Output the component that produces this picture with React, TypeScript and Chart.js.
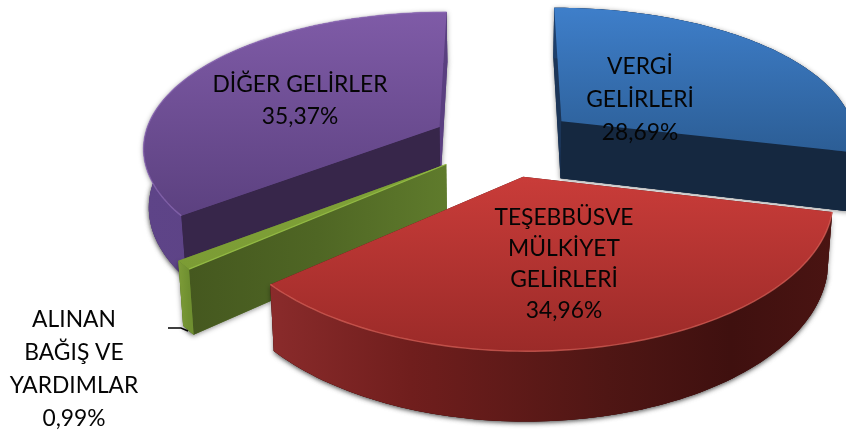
import React, { useEffect, useRef } from "react";
import { Chart, registerables } from "chart.js";

Chart.register(...registerables);

const categories = ["VERGİ GELİRLERİ", "TEŞEBBÜSVE MÜLKİYET GELİRLERİ", "ALINAN BAĞIŞ VE YARDIMLAR", "DİĞER GELİRLER"];
const shares = [28.69, 34.96, 0.99, 35.37];
const shareLabels = ["28,69%", "34,96%", "0,99%", "35,37%"];
const labelLines = [
  ["VERGİ", "GELİRLERİ", shareLabels[0]],
  ["TEŞEBBÜSVE", "MÜLKİYET", "GELİRLERİ", shareLabels[1]],
  ["ALINAN", "BAĞIŞ VE", "YARDIMLAR", shareLabels[2]],
  ["DİĞER GELİRLER", shareLabels[3]],
];
const labelBoxes = [
  { x: 640, y: 67, gap: 33 },
  { x: 564, y: 218, gap: 31 },
  { x: 74, y: 320, gap: 33 },
  { x: 300, y: 85, gap: 32 },
];
const sliceColors = ["#3A74BC", "#BE3835", "#7D9F36", "#73529A"];

// Perspective of the pie's plane on the page
const VP_X = 500;
const HORIZON = -870;
const REF = 1000;
const TILT = 0.134 / 293;
const PIE_DX = 4.7;
const PIE_DY = 26;
const RADIUS = 293;
const EXPLODE = 73;

type Pt = [number, number];

function project(gx: number, gy: number): Pt {
  const s = 1 / (1 - TILT * gy);
  const bow = 2.5 * (gy / 300) * (gy / 300);
  return [VP_X + gx * s, HORIZON + REF * s + bow];
}
function drop(p: Pt): Pt {
  return [VP_X + (p[0] - VP_X) * 0.985, p[1] + 0.0576 * (p[1] - HORIZON)];
}
function trace(ctx: CanvasRenderingContext2D, pts: Pt[]) {
  ctx.beginPath();
  pts.forEach((p, i) => (i ? ctx.lineTo(p[0], p[1]) : ctx.moveTo(p[0], p[1])));
  ctx.closePath();
}
function hGrad(ctx: CanvasRenderingContext2D, x0: number, x1: number, stops: [number, string][]) {
  const g = ctx.createLinearGradient(x0, 0, x1, 0);
  stops.forEach(([o, c]) => g.addColorStop(o, c));
  return g;
}
function vGrad(ctx: CanvasRenderingContext2D, y0: number, y1: number, c0: string, c1: string) {
  const g = ctx.createLinearGradient(0, y0, 0, y1);
  g.addColorStop(0, c0);
  g.addColorStop(1, c1);
  return g;
}

const styles = [
  {
    top: ["#3E7EC9", "#2C5E96", 10, 150],
    start: "#1B3558",
    end: "#152840",
    outer: [[0, "#1d3f6b"], [1, "#1d3f6b"]],
    bevel: "rgba(120,170,230,0.0)",
  },
  {
    top: ["#C93C39", "#9A2A28", 177, 355],
    start: "#4a1412",
    end: "#4a1412",
    outer: [[0, "#8A2B2B"], [0.25, "#701E1D"], [0.6, "#4F1614"], [0.82, "#3F100F"], [1, "#4A1412"]],
    bevel: "rgba(225,105,95,0.65)",
  },
  {
    top: ["#7FA238", "#7C9C35", 165, 269],
    start: "#46591F",
    end: "#5E7A2B",
    outer: [[0, "#7D9C38"], [1, "#6F8F30"]],
    bevel: "rgba(170,205,90,0.0)",
    startGrad: [[0, "#45581F"], [0.5, "#4F6624"], [1, "#5F7B2C"]],
  },
  {
    top: ["#7F5BA7", "#5C4180", 12, 215],
    start: "#37264A",
    end: "#5A3F80",
    outer: [[0, "#5E4488"], [1, "#5A4080"]],
    bevel: "rgba(150,115,190,0.6)",
  },
];

const pie3d = {
  id: "pie3d",
  beforeDatasetDraw(chart: any) {
    const ctx: CanvasRenderingContext2D = chart.ctx;
    const meta = chart.getDatasetMeta(0);
    const order = [0, 3, 2, 1];
    ctx.save();
    order.forEach((i) => {
      const el = meta.data[i];
      const { x, y, startAngle, endAngle, outerRadius } = el.getProps(
        ["x", "y", "startAngle", "endAngle", "outerRadius"],
        true
      );
      const mid = (startAngle + endAngle) / 2;
      const off = el.options.offset;
      const ax = x + Math.cos(mid) * off;
      const ay = y + Math.sin(mid) * off;
      const pt = (r: number, a: number) =>
        project(ax + r * Math.cos(a) - x + PIE_DX, ay + r * Math.sin(a) - y + PIE_DY);
      const apex = pt(0, 0);
      const rim: Pt[] = [];
      const steps = 90;
      for (let k = 0; k <= steps; k++) {
        rim.push(pt(outerRadius, startAngle + ((endAngle - startAngle) * k) / steps));
      }
      const st = styles[i] as any;
      const lowRim = rim.map(drop);
      const lowApex = drop(apex);
      const xs = rim.map((p) => p[0]);
      const x0 = Math.min(...xs);
      const x1 = Math.max(...xs);

      // soft shadow from the whole solid
      ctx.save();
      ctx.shadowColor = "rgba(0,0,0,0.45)";
      ctx.shadowBlur = 5;
      ctx.shadowOffsetY = 1;
      ctx.fillStyle = st.end;
      trace(ctx, [...lowRim, lowApex]);
      ctx.fill();
      trace(ctx, [...rim, ...lowRim.slice().reverse()]);
      ctx.fill();
      ctx.restore();

      // end radial wall
      ctx.fillStyle = st.end;
      trace(ctx, [apex, rim[steps], lowRim[steps], lowApex]);
      ctx.fill();
      // start radial wall
      ctx.fillStyle = st.startGrad
        ? hGrad(ctx, rim[0][0], apex[0], st.startGrad)
        : st.start;
      trace(ctx, [apex, rim[0], lowRim[0], lowApex]);
      ctx.fill();
      // curved outer wall
      ctx.fillStyle = hGrad(ctx, x0, x1, st.outer);
      trace(ctx, [...rim, ...lowRim.slice().reverse()]);
      ctx.fill();
      // cut faces that look at the viewer go over the curved wall
      if (i === 0) {
        ctx.fillStyle = st.end;
        trace(ctx, [apex, rim[steps], lowRim[steps], lowApex]);
        ctx.fill();
      }
      if (i === 3) {
        ctx.fillStyle = st.start;
        trace(ctx, [apex, rim[0], lowRim[0], lowApex]);
        ctx.fill();
      }
      // top face
      ctx.fillStyle = vGrad(ctx, st.top[2], st.top[3], st.top[0], st.top[1]);
      trace(ctx, [apex, ...rim]);
      ctx.fill();
      // bevel on the rim
      ctx.strokeStyle = st.bevel;
      ctx.lineWidth = 1.4;
      ctx.beginPath();
      rim.forEach((p, k) => (k ? ctx.lineTo(p[0], p[1]) : ctx.moveTo(p[0], p[1])));
      ctx.stroke();
      if (i === 2) {
        ctx.strokeStyle = "rgba(150,190,70,0.9)";
        ctx.lineWidth = 1.2;
        ctx.beginPath();
        ctx.moveTo(apex[0], apex[1]);
        ctx.lineTo(rim[0][0], rim[0][1]);
        ctx.stroke();
      }
    });
    ctx.restore();
    return false;
  },
  afterDatasetsDraw(chart: any) {
    const ctx: CanvasRenderingContext2D = chart.ctx;
    ctx.save();
    // leader of the small slice
    ctx.strokeStyle = "#000";
    ctx.lineWidth = 1.4;
    ctx.beginPath();
    ctx.moveTo(168, 328);
    ctx.lineTo(181, 328);
    ctx.lineTo(188, 331);
    ctx.stroke();
    ctx.fillStyle = "#050505";
    ctx.font = '22.8px Lato, "Noto Sans", sans-serif';
    ctx.textAlign = "center";
    ctx.textBaseline = "middle";
    labelLines.forEach((lines, i) => {
      const b = labelBoxes[i];
      lines.forEach((t, j) => ctx.fillText(t, b.x, b.y + j * b.gap));
    });
    ctx.restore();
  },
};

export default function App() {
  const ref = useRef<HTMLCanvasElement>(null);
  useEffect(() => {
    const chart = new Chart(ref.current as HTMLCanvasElement, {
      type: "pie",
      data: {
        labels: categories,
        datasets: [
          {
            data: shares,
            backgroundColor: sliceColors,
            borderWidth: 0,
            offset: EXPLODE,
            radius: RADIUS,
          } as any,
        ],
      },
      options: {
        responsive: false,
        animation: false,
        layout: { padding: 0 },
        plugins: { legend: { display: false }, tooltip: { enabled: false }, title: { display: false } },
      } as any,
      plugins: [pie3d as any],
    });
    return () => chart.destroy();
  }, []);
  return (
    <div style={{ position: "fixed", left: 0, top: 0, width: 846, height: 433, background: "#fff", overflow: "hidden" }}>
      <canvas ref={ref} width={846} height={433} style={{ display: "block" }} />
    </div>
  );
}
